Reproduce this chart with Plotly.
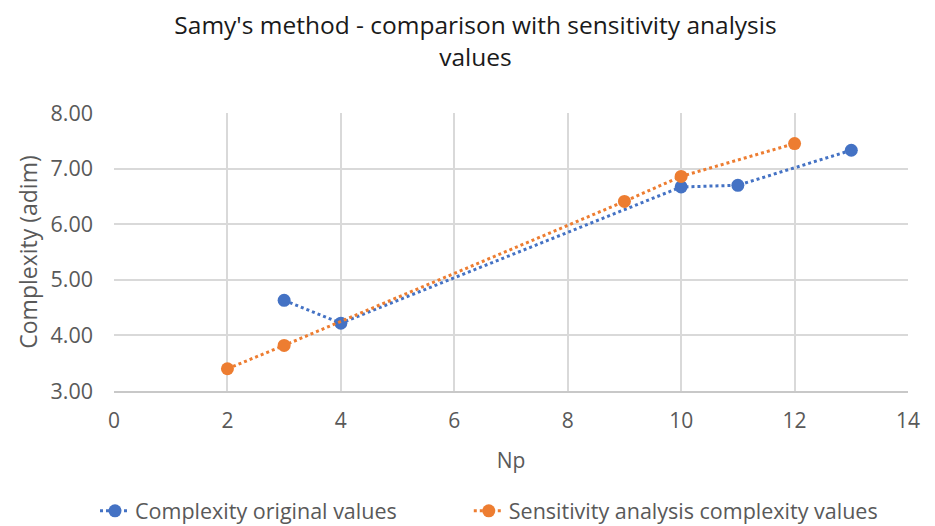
import plotly.graph_objects as go

orig_x = [3, 4, 10, 11, 13]
orig_y = [4.63, 4.22, 6.67, 6.70, 7.33]
sens_x = [2, 3, 9, 10, 12]
sens_y = [3.40, 3.82, 6.41, 6.86, 7.45]

x_ticks = [0, 2, 4, 6, 8, 10, 12, 14]
y_ticks = [3, 4, 5, 6, 7, 8]

pad = "\u00a0" * 12

fig = go.Figure()
fig.add_trace(go.Scatter(
    x=orig_x, y=orig_y, mode="lines+markers", name="Complexity original values" + pad,
    line=dict(color="#4472C4", width=3, dash="dot"),
    marker=dict(color="#4472C4", size=13)))
fig.add_trace(go.Scatter(
    x=sens_x, y=sens_y, mode="lines+markers", name="Sensitivity analysis complexity values",
    line=dict(color="#ED7D31", width=3, dash="dot"),
    marker=dict(color="#ED7D31", size=13)))

font_family = "Open Sans, Liberation Sans, sans-serif"
fig.update_layout(
    width=935, height=526,
    paper_bgcolor="white", plot_bgcolor="white",
    margin=dict(l=106, r=35, t=105, b=143),
    title=dict(text="Samy's method - comparison with sensitivity analysis<br>values",
               x=0.5, xanchor="center", yref="container", y=0.95, yanchor="middle",
               font=dict(family=font_family, size=24.5, color="#1a1a1a")),
    font=dict(family=font_family, color="#595959"),
    legend=dict(orientation="h", xref="container", x=87 / 935, xanchor="left",
                yref="container", y=0.044, yanchor="middle",
                font=dict(size=21.5, color="#595959")),
    showlegend=True,
)
fig.update_xaxes(range=[0, 14], tickvals=x_ticks, ticktext=[str(v) for v in x_ticks],
                 showgrid=True, gridcolor="#d9d9d9", gridwidth=2, automargin=False,
                 zeroline=False, showline=True, linecolor="#c8c8c8", linewidth=2, ticks="",
                 ticklabelstandoff=10,
                 tickfont=dict(size=21, color="#595959"),
                 title=dict(text="Np", font=dict(size=21, color="#595959"), standoff=20))
fig.update_yaxes(range=[3, 8], tickvals=y_ticks, ticktext=[f"{v:.2f}" for v in y_ticks],
                 showgrid=True, gridcolor="#d9d9d9", gridwidth=2, automargin=False,
                 zeroline=False, showline=False, ticks="",
                 ticklabelstandoff=20,
                 tickfont=dict(size=21.5, color="#595959"),
                 title=dict(text="Complexity (adim)", font=dict(size=23, color="#595959"), standoff=6))

fig.write_html("out.html")
